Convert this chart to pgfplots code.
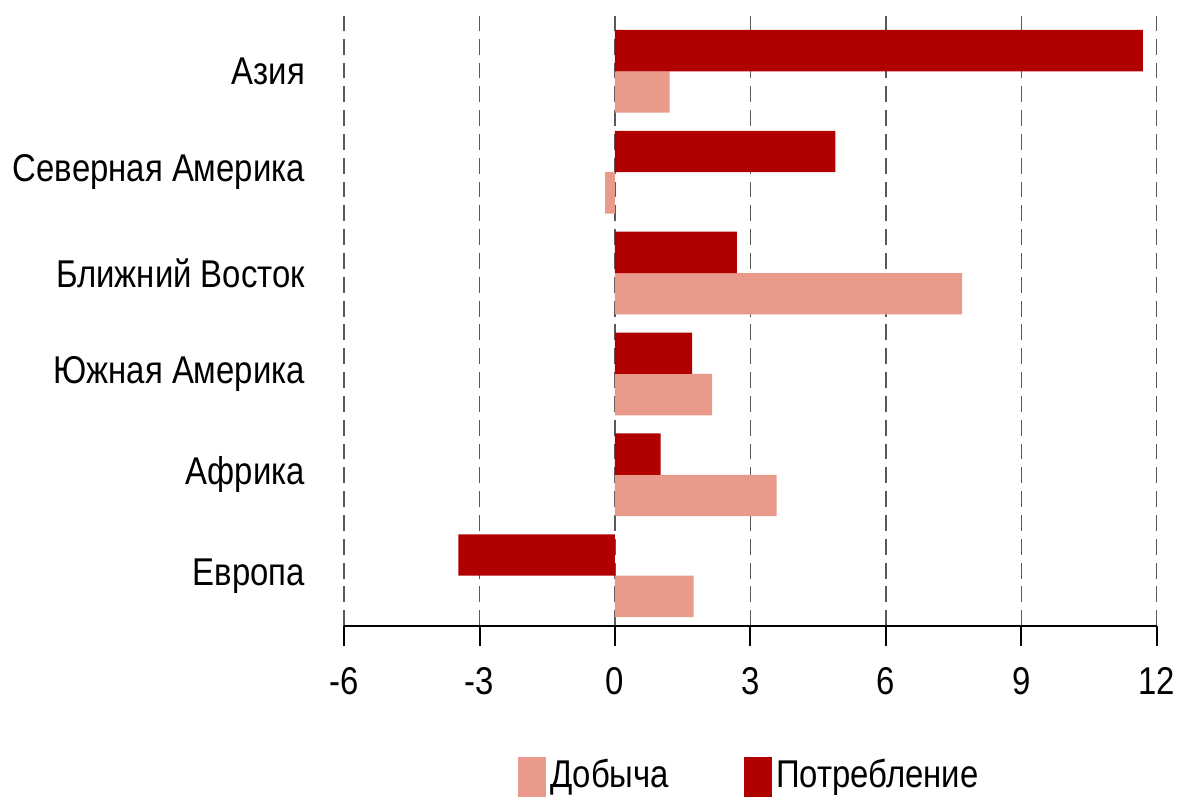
\documentclass[border=0pt]{standalone}
\usepackage{fontspec}
\setmainfont{Liberation Sans}[FakeStretch=0.85]
\usepackage{pgfplots}
\pgfplotsset{compat=1.18}
\definecolor{dob}{HTML}{E99A8B}
\definecolor{pot}{HTML}{B00000}
\begin{document}
\fontsize{19.5pt}{23pt}\selectfont
\begin{tikzpicture}
\begin{axis}[
  scale only axis,
  width=409.5pt, height=307.5pt,
  xmin=-6, xmax=12, ymin=-0.5, ymax=5.55,
  xtick={-6,-3,0,3,6,9,12},
  ytick={0,1,2,3,4,5},
  yticklabels={Европа,Африка,Южная Америка,Ближний Восток,Северная Америка,Азия},
  axis x line*=bottom,
  axis y line*=left,
  y axis line style={draw=none},
  tick align=outside,
  major tick length=10pt,
  x axis line style={-, line width=1pt, black},
  x tick style={line width=1pt, black},
  ytick style={draw=none},
  xmajorgrids,
  grid style={dash pattern=on 8pt off 4pt, black!65, line width=0.7pt},
  /pgf/number format/assume math mode=true,
  xticklabel style={font=\fontsize{19.5pt}{23pt}\selectfont, yshift=-4pt},
  yticklabel style={font=\fontsize{19.5pt}{23pt}\selectfont, xshift=-3pt},
  xbar, bar width=0.41,
  legend style={at={(0.5,-0.205)}, anchor=north, draw=none, legend columns=2,
    font=\fontsize{19.5pt}{23pt}\selectfont,
    nodes={inner xsep=2pt},
    /tikz/every even column/.append style={column sep=36pt}},
  legend image code/.code={\fill[#1] (0pt,-10pt) rectangle (14pt,10pt);},
]
\addplot[fill=dob, draw=none, bar shift=-0.205] coordinates {
(1.74,0) (3.58,1) (2.15,2) (7.69,3) (-0.22,4) (1.21,5)};
\addlegendentry{Добыча}
\addplot[fill=pot, draw=none, bar shift=0.205] coordinates {
(-3.47,0) (1.01,1) (1.71,2) (2.70,3) (4.88,4) (11.69,5)};
\addlegendentry{Потребление}
\end{axis}
\path ([yshift=8pt]current axis.north);
\end{tikzpicture}
\end{document}
